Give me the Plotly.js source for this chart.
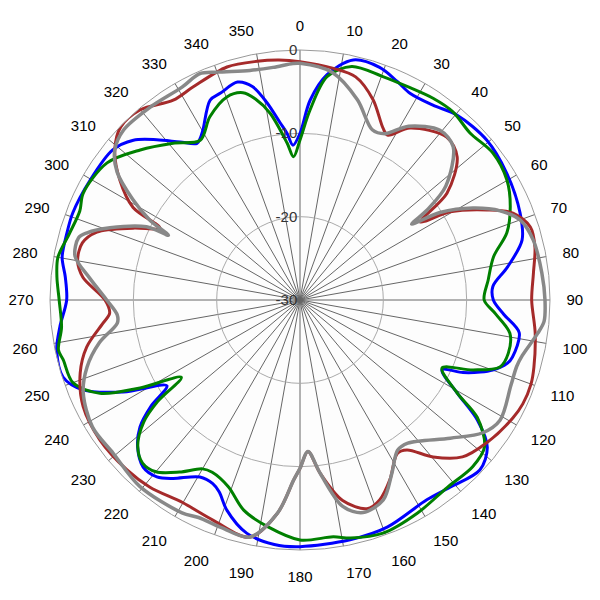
<!DOCTYPE html>
<html>
<head>
<meta charset="utf-8">
<script src="https://cdn.plot.ly/plotly-3.0.1.min.js"></script>
<style>html,body{margin:0;padding:0;background:#fff;}#chart{width:600px;height:600px;}</style>
</head>
<body>
<div id="chart"></div>
<script>
// Angular tick labels
const angleTicks = [0,10,20,30,40,50,60,70,80,90,100,110,120,130,140,150,160,170,180,190,200,210,220,230,240,250,260,270,280,290,300,310,320,330,340,350];
const radialTicks = [-30,-20,-10,0];

// Blue series
const blueTheta = [0,2.9,6.8,12.5,18.9,24,28,34.3,40.3,49.4,58.5,68.4,74.9,81,86,90,94,98.5,105,107,110,111.8,114,116.2,120.6,124.1,128.2,133.4,141.3,147.6,159,168.2,180,186,192.9,199.2,202.8,205.4,209.5,215.5,219,223.2,227.8,231.6,234.5,237.2,242.5,247.5,252,258.4,263.6,270,275.6,280.2,286,291,299.7,308.7,313.8,318.2,322.8,326.7,328.3,330.3,335.8,339,344,347.5,350.5,353.6,355.5,357.4,360];
const blueR =     [-10,-6.0,-2.8,-0.5,-0.5,-1.3,-1.9,-1.7,-0.9,-0.5,-0.9,-1.6,-2.4,-4.8,-6.8,-6.8,-5.5,-3.4,-3.6,-4.0,-5.4,-6.7,-8.6,-11.0,-8.1,-4.3,-1.4,-0.3,-1.2,-1.6,-0.8,-0.6,-0.4,-0.5,-1.3,-3.3,-5.0,-5.6,-5.6,-3.7,-2.7,-2.5,-3.7,-5.5,-8.0,-11.0,-6.1,-1.8,-0.1,-0.2,-1.0,-2.0,-1.7,-1.0,-0.9,-0.8,-1.0,-1.2,-2.3,-4.2,-6.2,-7.5,-7.2,-6.5,-3.7,-3.4,-2.8,-3.8,-6.0,-8.6,-9.9,-11.4,-10];

// Green series
const greenTheta = [0,3,6.9,12.5,20,27.4,33.4,39.1,45.5,52.7,59.9,66.1,72,77.4,84,90,94,99,104.3,108.5,112,115.6,120.6,123.5,128.5,134,141.8,151.2,160.4,168,172,180,188,195,201,207,210,215,220,224,228,232,234.5,236.9,241.2,245,250,255.8,258.3,263.5,270,275.4,280,286,292,296.2,305.4,313.2,321,328,333.8,340.2,344.6,347.5,350.9,355.3,357.4,360];
const greenR =     [-10.8,-7.2,-3.0,-1.3,-1.4,-1.3,-1.0,-0.9,-1.4,-0.9,-1.3,-2.4,-3.9,-6.2,-7.3,-7.9,-6.5,-4.5,-4.2,-4.7,-7.6,-11.1,-8.1,-4.5,-1.7,-1.2,-1.4,-0.8,-0.3,-0.8,-1.3,-1.2,-2.5,-3.9,-6.0,-6.8,-6.6,-4.8,-3.1,-2.8,-3.8,-6.2,-9.0,-13.0,-8.1,-3.5,-1.0,-0.7,-0.4,-1.2,-1.1,-0.7,-0.5,-1.2,-1.5,-1.0,-1.6,-3.7,-5.8,-7.4,-5.5,-4.1,-4.2,-5.3,-7.3,-11.1,-12.8,-10.8];

// Red series
const redTheta = [0,8,14,20,25.8,28,32.6,42,47.7,54,57,59.6,64.3,67.8,72.4,77.3,83.4,90,98,106,110,115,119,127.4,134,139.7,144.5,147.6,153.4,158.2,162.2,168,173.4,177,180,182,186,192,201.6,210,218.7,225.5,235,243.8,251.6,257.6,263.3,266,270,276,280,284.7,288.5,293.3,297.2,299,303.7,309,314,320,327.6,333.3,342.6,349.8,355,360];
const redR =     [-1.4,-1.9,-2.4,-4.4,-7.1,-7.6,-5.5,-3.7,-4.5,-8.2,-12.8,-9.1,-5.1,-2.4,-1.0,-1.1,-1.8,-2.2,-1.5,-0.8,-0.5,-0.5,-0.8,-1.8,-2.9,-5.3,-7.9,-8.2,-5.9,-4.2,-3.7,-5.4,-9.1,-11.8,-9.8,-8.4,-4.3,-0.9,-1.6,-1.9,-1.2,-0.9,-0.7,-1.0,-2.2,-3.8,-6.2,-7.1,-6.6,-3.8,-2.9,-3.0,-4.3,-8.2,-11.1,-7.1,-4.0,-1.4,-0.1,-0.2,-1.6,-1.4,-0.7,-0.9,-1.1,-1.4];

// Gray series
const grayTheta = [0,8,16,23,27,32,39.5,45,52,54.7,55.8,58,62,66,70,75.6,83.6,90,95,98,104,107,112,121,126,132.6,143,147,152,157.4,163.5,168.3,173.4,177,180,182,186,192,199,205,209,220.6,230.7,238.5,246.8,252.5,258,262.8,265.3,270,276,281,285.7,287.5,290.8,295.5,296.2,298,301,305,309,314,322,331,336,340,347.7,353.4,358.3,360];
const grayR =     [-1.6,-2.4,-5.0,-7.8,-7.6,-5.4,-3.6,-4.0,-7.8,-11.3,-13.8,-10.2,-6.5,-3.7,-1.9,-1.1,-0.8,-0.6,-0.6,-1.2,-2.5,-2.8,-2.7,-2.0,-2.9,-5.5,-8.5,-8.5,-6.5,-4.0,-3.4,-4.7,-9.1,-11.8,-9.8,-8.4,-4.3,-0.9,-1.1,-1.2,-0.8,-0.5,-1.0,-0.8,-1.7,-3.2,-5.4,-7.9,-8.0,-6.8,-4.6,-2.5,-2.4,-3.2,-5.6,-9.6,-12.4,-9.6,-6.6,-3.2,-1.4,-0.6,-0.7,-0.8,-0.3,-0.9,-1.8,-1.9,-1.6,-1.6];

function tr(theta, r, color, w) {
  return {type:'scatterpolar', mode:'lines', theta:theta, r:r,
    line:{color:color, width:w, shape:'spline', smoothing:0.9}, hoverinfo:'skip', showlegend:false};
}

const data = [
  tr(blueTheta, blueR, '#0000ff', 3),
  tr(greenTheta, greenR, '#008000', 3),
  tr(redTheta, redR, '#a52a2a', 3),
  tr(grayTheta, grayR, '#888888', 3.5)
];

const layout = {
  width:600, height:600,
  margin:{l:0,r:0,t:0,b:0},
  paper_bgcolor:'#ffffff',
  font:{family:'"Liberation Sans", Arial, sans-serif', size:15, color:'#000'},
  polar:{
    domain:{x:[50/600,550/600], y:[50/600,550/600]},
    bgcolor:'#fdfdfd',
    angularaxis:{
      rotation:90, direction:'clockwise',
      tickmode:'array', tickvals:angleTicks, ticktext:angleTicks.map(String),
      ticks:'outside', ticklen:13, tickcolor:'rgba(0,0,0,0)',
      showline:true, linecolor:'#999999', linewidth:1,
      gridcolor:'#666666', gridwidth:1,
      tickfont:{size:15, color:'#000'}
    },
    radialaxis:{
      range:[-30,0], angle:90, side:'counterclockwise',
      tickmode:'array', tickvals:radialTicks, ticktext:radialTicks.map(String),
      showline:false, ticks:'', gridcolor:'#aaaaaa', gridwidth:1,
      tickangle:90,
      tickfont:{size:15, color:'#333'}
    }
  }
};

Plotly.newPlot('chart', data, layout, {staticPlot:true});
</script>
</body>
</html>
